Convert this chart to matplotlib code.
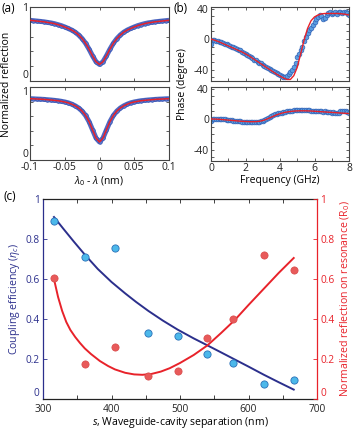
import numpy as np
import matplotlib
matplotlib.use("Agg")
import matplotlib.pyplot as plt

plt.rcParams['font.family'] = ['Open Sans', 'DejaVu Sans']
plt.rcParams['mathtext.fontset'] = 'custom'
plt.rcParams['mathtext.rm'] = 'Open Sans'
plt.rcParams['mathtext.it'] = 'Open Sans:italic'

# ---------------- data (a) ----------------
detuning = np.round(np.arange(-0.1, 0.1001, 0.005), 4)
refl_top = [0.82, 0.815, 0.81, 0.805, 0.80, 0.792, 0.785, 0.775, 0.762, 0.748,
            0.73, 0.71, 0.688, 0.66, 0.622, 0.573, 0.51, 0.43, 0.34, 0.26,
            0.224,
            0.26, 0.34, 0.43, 0.51, 0.573, 0.622, 0.66, 0.688, 0.71, 0.73,
            0.748, 0.762, 0.775, 0.785, 0.792, 0.80, 0.805, 0.81, 0.815, 0.82]
refl_bot = [0.84, 0.838, 0.835, 0.833, 0.83, 0.826, 0.822, 0.817, 0.812, 0.804,
            0.795, 0.783, 0.765, 0.742, 0.712, 0.67, 0.61, 0.525, 0.413, 0.30,
            0.247,
            0.30, 0.413, 0.525, 0.61, 0.67, 0.712, 0.742, 0.765, 0.783, 0.795,
            0.804, 0.812, 0.817, 0.822, 0.826, 0.83, 0.833, 0.835, 0.838, 0.84]

# ---------------- data (b) ----------------
freq = np.round(np.arange(0, 8.001, 0.1), 2)
phase_top = [-6, -1, -1, -2, -3, -4, -4.5, -5, -6, -7,
             -8, -9, -10, -11, -12, -13, -14, -15, -16.5, -18,
             -19, -20.5, -22, -23.5, -25, -27, -28, -29.5, -31, -32,
             -33.5, -35, -36, -37.5, -39, -40, -41.5, -43, -44.5, -46,
             -47, -48.5, -49.5, -50, -49, -46, -43, -40, -36, -31,
             -24, -19, -14, -11, -3, 3, 8, 12, 15, 18,
             22, 26, 29, 31, 30, 26, 28, 32, 34, 35,
             33, 34, 35, 33, 35, 36, 34, 35, 36, 34, 31]
phase_bot = [-2, 0.5, 0, 0.5, 0, 0, -0.5, 0, -0.5, -1,
             -1, -1.5, -1.5, -2, -2, -2.5, -3, -3, -3.5, -3.5,
             -4, -4, -4.5, -4, -4.5, -4, -4.5, -4, -3.5, -3,
             -2, -1, 0.5, 2, 3, 4, 5, 6, 6.5, 7.5,
             8, 8.5, 9, 9.5, 10, 10.5, 11, 11, 11.5, 11.5,
             12, 12, 12, 12, 11.5, 12, 11.5, 11.5, 11, 11,
             10.5, 11, 10, 10, 10.5, 9.5, 10, 9, 9.5, 9,
             8.5, 9, 8, 8, 8.5, 10, 11, 11, 10, 9, 8]
freq_fit = np.round(np.arange(0, 8.001, 0.2), 2)
phase_top_fit = [0, -1.5, -3, -5, -7, -9, -11, -13, -15, -17,
                 -19.5, -22, -25, -28, -31, -34, -37, -40, -43, -46,
                 -48.5, -51, -53, -53, -48, -37, -19, -1, 14, 24,
                 29, 31.5, 33, 33.5, 33.5, 33.5, 33.5, 33.5, 33, 32.5, 31.5]
phase_bot_fit = [0, 0, -0.3, -0.6, -1, -1.4, -1.8, -2.2, -2.6, -3,
                 -3.2, -3.4, -3.5, -3.4, -3, -2, -0.5, 1.5, 3.5, 5.5,
                 7, 8.3, 9.2, 9.9, 10.4, 10.7, 10.8, 10.8, 10.7, 10.5,
                 10.2, 9.9, 9.6, 9.3, 9.0, 8.7, 8.4, 8.1, 7.8, 7.5, 7.2]

# ---------------- data (c) ----------------
sep = [316, 361, 405, 454, 497, 539, 578, 622, 666]
eta_c = [0.888, 0.71, 0.755, 0.33, 0.313, 0.225, 0.182, 0.075, 0.097]
r0 = [0.605, 0.177, 0.26, 0.115, 0.138, 0.303, 0.40, 0.72, 0.643]
sep_fit_eta = [316, 330, 345, 361, 380, 400, 420, 436, 454, 475, 497, 520,
               539, 560, 578, 600, 622, 644, 666]
eta_fit = [0.91, 0.85, 0.787, 0.722, 0.65, 0.585, 0.528, 0.485, 0.44, 0.392,
           0.346, 0.303, 0.27, 0.233, 0.201, 0.162, 0.122, 0.084, 0.047]
sep_fit_r = [316, 322, 328, 334, 340, 347, 354, 361, 370, 383, 395, 405, 420,
             433, 445, 458, 472, 485, 500, 520, 540, 560, 580, 600, 622, 644, 666]
r_fit = [0.60, 0.51, 0.44, 0.385, 0.345, 0.31, 0.28, 0.253, 0.225, 0.19,
         0.165, 0.148, 0.131, 0.123, 0.121, 0.125, 0.137, 0.154, 0.18, 0.22,
         0.268, 0.33, 0.395, 0.47, 0.55, 0.63, 0.705]

# ---------------- styling ----------------
NAVY = '#2b2f8c'
RED = '#e8222a'
FS = 7.5
FSC = 7.3
frame = '#444444'

fig = plt.figure(figsize=(3.57, 4.29), dpi=100)
W, H = 357.0, 429.0

def ax_px(l, t, r, b):
    return fig.add_axes([l / W, 1 - b / H, (r - l) / W, (b - t) / H])

def style(ax):
    for s in ax.spines.values():
        s.set_color(frame)
        s.set_linewidth(0.8)
    ax.tick_params(direction='in', length=2.5, width=0.6, colors=frame,
                   labelsize=FS, labelcolor='#222222', top=True, right=True, pad=1.5)

# (a)
axa1 = ax_px(30, 7, 169, 81)
axa2 = ax_px(30, 87, 169, 160)
for ax, y in ((axa1, refl_top), (axa2, refl_bot)):
    ax.plot(detuning, y, '-', color='#3d58bc', lw=3.6, alpha=0.9, zorder=2,
            solid_capstyle='butt')
    ax.plot(detuning, y, 'o', ms=2.6, mfc='#5577cc', mec='#3550b0', mew=0.4, zorder=2)
    ax.plot(detuning, y, '-', color=RED, lw=1.1, zorder=3)
    ax.set_xlim(-0.1, 0.1)
    ax.set_ylim(0, 1)
    ax.set_yticks([0, 0.2, 0.4, 0.6, 0.8, 1.0])
    ax.set_yticklabels(['0', '', '', '', '', '1'])
    ax.set_xticks([-0.1, -0.05, 0, 0.05, 0.1])
    style(ax)
axa1.set_xticklabels([])
axa2.set_xticklabels(['-0.1', '-0.05', '0', '0.05', '0.1'])
axa2.set_xlabel(r'$\lambda_0$ - $\lambda$ (nm)', fontsize=FS, labelpad=1)
fig.text(7 / W, 1 - 84 / H, 'Normalized reflection', rotation=90, fontsize=FS,
         ha='center', va='center')
fig.text(2 / W, 1 - 9 / H, '(a)', fontsize=8.5, ha='left', va='center')

# (b)
axb1 = ax_px(211, 7, 349, 81)
axb2 = ax_px(211, 87, 349, 161)
for ax, y, yf in ((axb1, phase_top, phase_top_fit), (axb2, phase_bot, phase_bot_fit)):
    ax.plot(freq, y, 'o', ms=3.4, mfc='#5b9ee0', mec='#3363b8', mew=0.5, zorder=2)
    ax.plot(freq_fit, yf, '-', color=RED, lw=1.0, zorder=3)
    ax.set_xlim(0, 8)
    ax.set_ylim(-55, 42)
    ax.set_yticks([-50, -40, -30, -20, -10, 0, 10, 20, 30, 40])
    ax.set_yticklabels(['', '-40', '', '', '', '0', '', '', '', '40'])
    ax.set_xticks(range(0, 9))
    style(ax)
axb1.set_xticklabels([])
axb2.set_xticklabels(['0', '', '2', '', '4', '', '6', '', '8'])
axb2.set_xlabel('Frequency (GHz)', fontsize=FS, labelpad=1)
fig.text(182 / W, 1 - 84 / H, 'Phase (degree)', rotation=90, fontsize=FS,
         ha='center', va='center')
fig.text(173 / W, 1 - 9 / H, '(b)', fontsize=8.5, ha='left', va='center')

# (c)
axc = ax_px(43, 199, 317, 399)
axc.plot(sep_fit_eta, eta_fit, '-', color=NAVY, lw=1.4, zorder=2)
axc.plot(sep_fit_r, r_fit, '-', color=RED, lw=1.4, zorder=2)
axc.plot(sep, eta_c, 'o', ms=5.2, mfc='#4cb8ea', mec='#2a70b8', mew=0.6, zorder=3)
axc.plot(sep, r0, 'o', ms=5.2, mfc='#e85a5a', mec='#d84848', mew=0.5, zorder=3)
axc.set_xlim(300, 700)
axc.set_ylim(0, 1)
axc.set_xticks(np.arange(300, 701, 50))
axc.set_xticklabels(['300', '', '400', '', '500', '', '600', '', '700'])
axc.set_yticks([0, 0.2, 0.4, 0.6, 0.8, 1.0])
axc.set_yticklabels(['0', '0.2', '0.4', '0.6', '0.8', '1'])
for s in axc.spines.values():
    s.set_linewidth(0.9)
    s.set_color('#222222')
axc.spines['left'].set_color(NAVY)
axc.spines['right'].set_visible(False)
axc.tick_params(axis='x', direction='in', length=3, width=0.6, top=True,
                labelsize=FSC, colors='#222222', pad=3.8)
axc.tick_params(axis='y', direction='in', length=3, width=0.6, colors=NAVY,
                labelsize=FSC, labelcolor=NAVY, pad=2.5)
axc.set_xlabel(r'$\it{s}$, Waveguide-cavity separation (nm)', fontsize=7.6,
               labelpad=0)
axc.set_ylabel(r'Coupling efficiency ($\eta_c$)', fontsize=7.6, color=NAVY,
               labelpad=2)
axr = axc.twinx()
axr.set_ylim(0, 1)
axr.set_yticks([0, 0.2, 0.4, 0.6, 0.8, 1.0])
axr.set_yticklabels(['0', '0.2', '0.4', '0.6', '0.8', '1'])
for k in ('left', 'top', 'bottom'):
    axr.spines[k].set_visible(False)
axr.spines['right'].set_color(RED)
axr.spines['right'].set_linewidth(0.9)
axr.tick_params(axis='y', direction='in', length=3, width=0.6, colors=RED,
                labelsize=FSC, labelcolor=RED, pad=2.5)
axr.set_ylabel(r'Normalized reflection on resonance (R$_0$)', fontsize=7.6,
               color=RED, labelpad=3)
fig.text(3 / W, 1 - 196 / H, '(c)', fontsize=8.5, ha='left', va='center')

# nudge edge tick labels after ticks exist, so they do not collide
fig.canvas.draw()
axa1.yaxis.get_major_ticks()[0].label1.set_va('bottom')
axa2.yaxis.get_major_ticks()[-1].label1.set_va('top')
axa2.yaxis.get_major_ticks()[0].label1.set_va('bottom')
axc.yaxis.get_major_ticks()[0].label1.set_va('bottom')
axr.yaxis.get_major_ticks()[0].label2.set_va('bottom')

fig.savefig('out.png', dpi=100)
